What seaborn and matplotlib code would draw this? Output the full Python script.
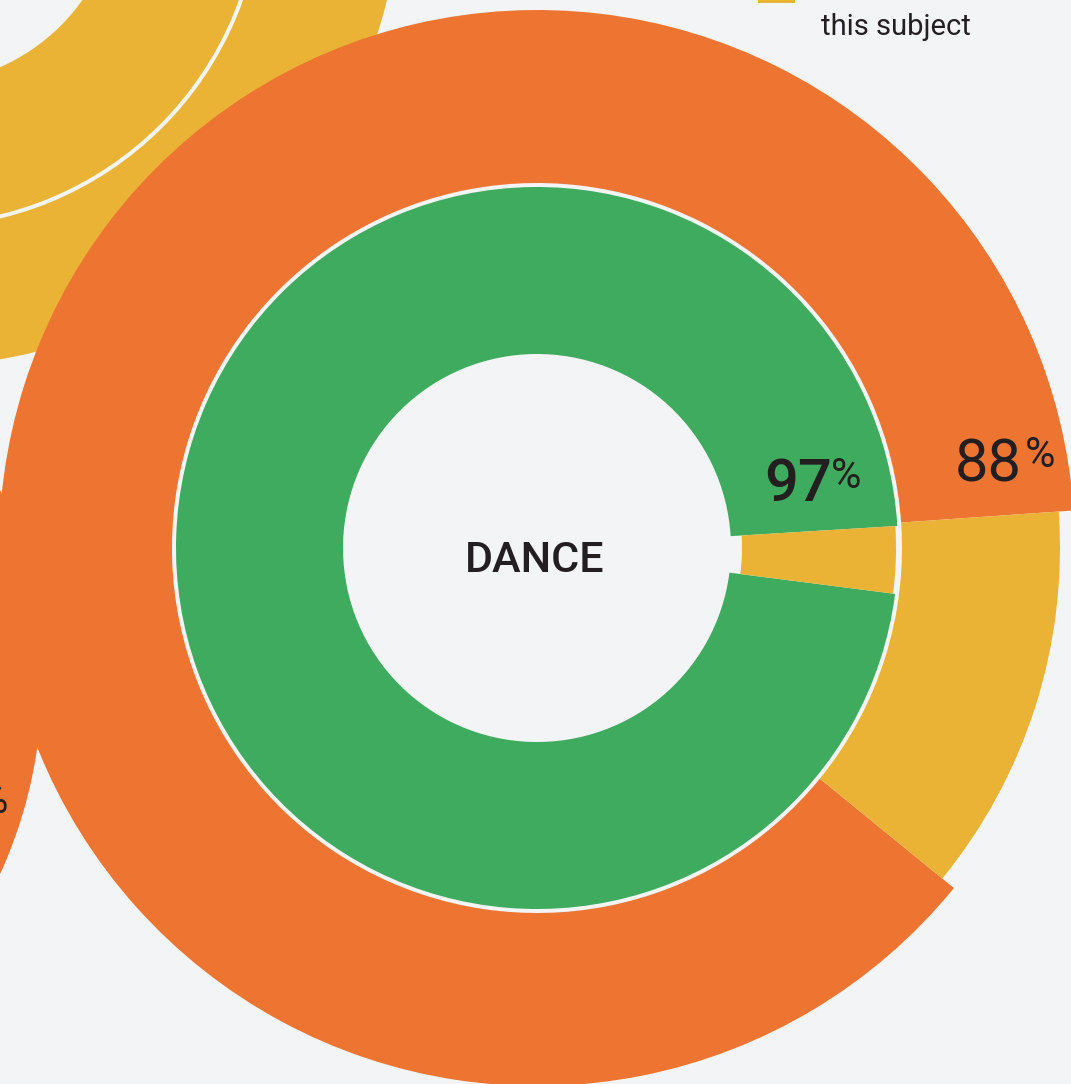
import matplotlib
matplotlib.use("Agg")
import matplotlib.pyplot as plt
import seaborn as sns
from matplotlib.patches import Rectangle

# main donut (DANCE): outer ring / inner ring shares
subject = "DANCE"
outer_values = [88, 12]   # orange, yellow
inner_values = [97, 3]    # green, yellow
outer_label = "88"
inner_label = "97"
legend_text = "this subject"

# neighbouring donuts, only one colour of each is visible in the crop
corner_inner = [100]
corner_outer = [100]
left_outer = [100]
left_label = "%"

ORANGE = "#EE7432"
YELLOW = "#EAB336"
GREEN = "#3EAB5E"
BG = "#F3F4F6"
INK = "#231F20"

sns.set_theme(style="white")
plt.rcParams["font.family"] = ["Roboto", "DejaVu Sans"]

W, H = 1071, 1084
fig = plt.figure(figsize=(W / 100, H / 100), dpi=100, facecolor=BG)
ax = fig.add_axes([0, 0, 1, 1])
ax.set_facecolor(BG)


def px(x, y):
    # picture pixels -> data coords (y up)
    return (x, H - y)


def ring(values, colors, center, r, width, start=90, z=1):
    wedges, _ = ax.pie(values, colors=colors, center=center, radius=r,
                       startangle=start, counterclock=True, frame=False,
                       wedgeprops=dict(width=width, linewidth=0))
    for w in wedges:
        w.set_zorder(z)
    return wedges


# donut in the top-left corner
ring(corner_inner, [YELLOW], px(-80, -115), 339, 140, z=1)
ring(corner_outer, [YELLOW], px(-80, -115), 481, 138, z=1)

# donut on the left
ring(left_outer, [ORANGE], px(-419, 682), 461, 170, z=1)

# main donut
c = px(537, 548)
outer = ring(outer_values, [ORANGE, YELLOW], c, 538, 173, start=4, z=3)
outer[1].set_radius(523)
outer[1].set_width(158)
inner = ring(inner_values, [GREEN, YELLOW], c, 361, 167, start=3.5, z=3)
inner[1].set_radius(359)
inner[1].set_width(154)

# labels
big = dict(fontsize=43, color=INK, va="baseline", zorder=5)
sup = dict(fontsize=30, color=INK, va="baseline", zorder=5)
ax.text(*px(832, 501), inner_label, ha="right", fontweight="medium", **big)
ax.text(*px(831, 488), "%", ha="left", **sup)
ax.text(*px(1022, 481), outer_label, ha="right", **big)
ax.text(*px(1025, 467), "%", ha="left", **sup)
ax.text(*px(8, 813), left_label, ha="right", **sup)
ax.text(*px(535, 572), subject, fontsize=31, color=INK, fontweight="medium",
        ha="center", va="baseline", zorder=5)

# legend fragment at the top
ax.add_patch(Rectangle(px(758, 3), 37, 37, color=YELLOW, linewidth=0, zorder=5))
ax.text(*px(821, 35), legend_text, fontsize=21, color=INK, ha="left", va="baseline", zorder=5)

ax.set_xlim(0, W)
ax.set_ylim(0, H)
ax.set_aspect("equal")
ax.axis("off")

fig.savefig("out.png", dpi=100, facecolor=BG)
